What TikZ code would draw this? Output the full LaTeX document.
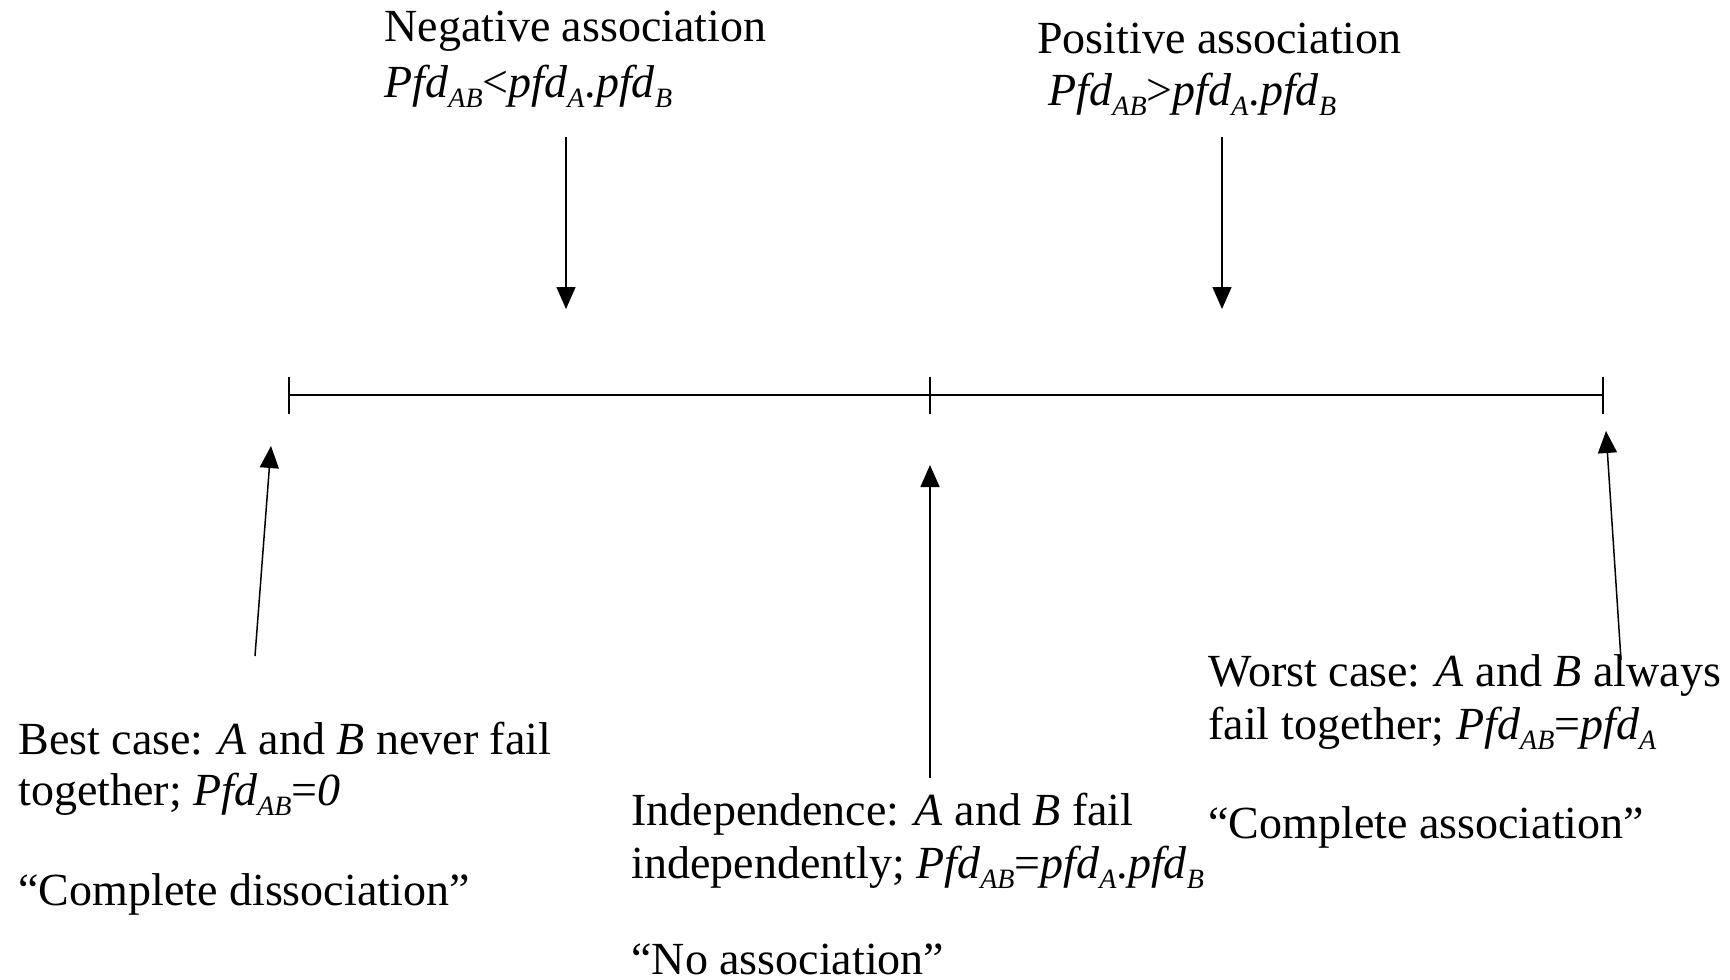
\documentclass[tikz,border=0pt]{standalone}
\usepackage{fontspec}
\setmainfont{Liberation Serif}
\usetikzlibrary{arrows.meta}
\newcommand{\sbs}[1]{\raisebox{-5pt}{\fontsize{14}{14}\selectfont\textit{#1}}}
\newcommand{\pfd}{\textit{Pfd}}
\newcommand{\lpfd}{\textit{pfd}}
\tikzset{
  lbl/.style={anchor=base west, inner sep=0pt, font=\fontsize{23}{27}\selectfont},
  arr/.style={line width=0.75pt, -{Triangle[length=11pt,width=9.5pt]}},
  scaleline/.style={line width=0.8pt},
}
\begin{document}
\begin{tikzpicture}[x=0.5pt,y=-0.5pt]
\useasboundingbox (0,0) rectangle (1730,980);
% scale line
\coordinate (L) at (289,395);
\coordinate (M) at (930,395);
\coordinate (R) at (1603,395);
\draw[scaleline] (L) -- (M) -- (R);
\foreach \p in {L,M,R}{\draw[scaleline] ([yshift=9.25pt]\p) -- ([yshift=-9.25pt]\p);}
% top labels
\node[lbl] (neg1) at (384,41) {Negative association};
\node[lbl] (neg2) at (384,97) {\pfd\sbs{AB}<\lpfd\sbs{A}.\lpfd\sbs{B}};
\node[lbl] (pos1) at (1037,53) {Positive association};
\node[lbl] (pos2) at (1048,105) {\pfd\sbs{AB}>\lpfd\sbs{A}.\lpfd\sbs{B}};
% top arrows
\coordinate (negs) at (566,137);
\coordinate (nege) at (566,309);
\coordinate (poss) at (1222,137);
\coordinate (pose) at (1222,309);
\draw[arr] (negs) -- (nege);
\draw[arr] (poss) -- (pose);
% bottom arrows
\coordinate (bests) at (255,656);
\coordinate (beste) at (271,446);
\coordinate (inds) at (930,778);
\coordinate (inde) at (930,465);
\coordinate (worsts) at (1621,660);
\coordinate (worste) at (1606,431);
\draw[arr] (bests) -- (beste);
\draw[arr] (inds) -- (inde);
\draw[arr] (worsts) -- (worste);
% best case
\node[lbl] (best1) at (18,754) {Best case: \textit{A} and \textit{B} never fail};
\node[lbl] (best2) at (18,805) {together; \pfd\sbs{AB}=\textit{0}};
\node[lbl] (best3) at (18,905) {“Complete dissociation”};
% independence
\node[lbl] (ind1) at (631,825) {Independence: \textit{A} and \textit{B} fail};
\node[lbl] (ind2) at (631,878) {independently; \pfd\sbs{AB}=\lpfd\sbs{A}.\lpfd\sbs{B}};
\node[lbl] (ind3) at (631,974) {“No association”};
% worst case
\node[lbl] (worst1) at (1208,686) {Worst case: \textit{A} and \textit{B} always};
\node[lbl] (worst2) at (1208,739) {fail together; \pfd\sbs{AB}=\lpfd\sbs{A}};
\node[lbl] (worst3) at (1208,838) {“Complete association”};
\end{tikzpicture}
\end{document}
